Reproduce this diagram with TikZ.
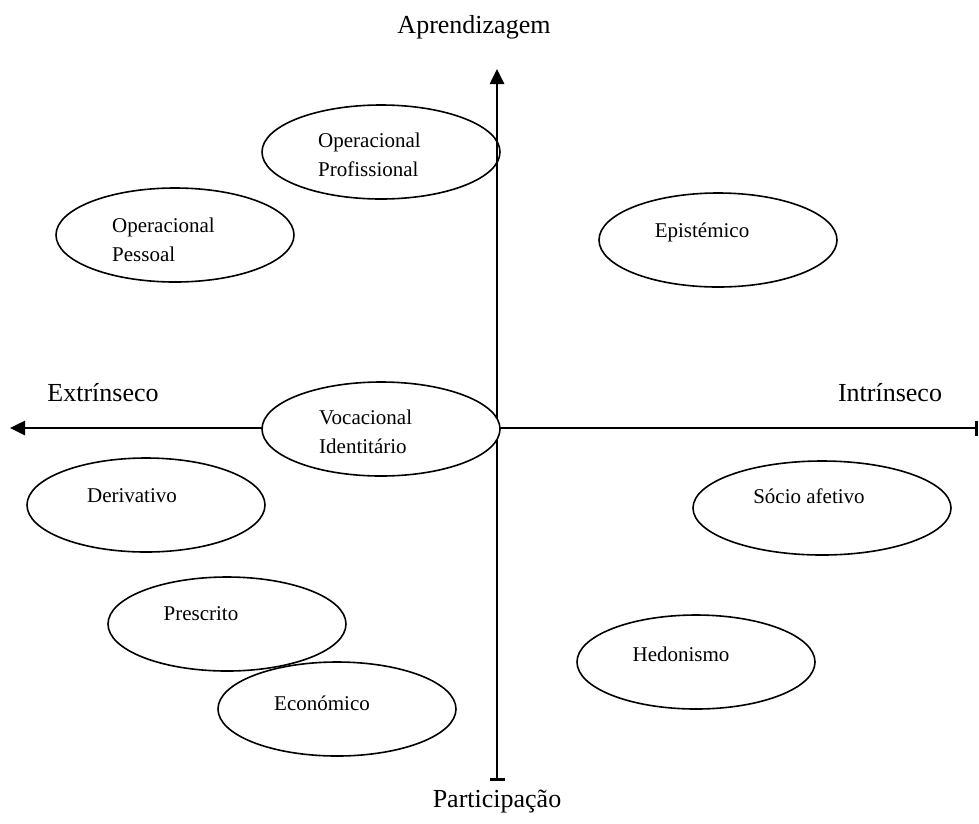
\documentclass[tikz,border=0pt]{standalone}
\usepackage{fontspec}
\setmainfont{Liberation Serif}
\usetikzlibrary{shapes.geometric,arrows.meta}
\begin{document}
\begin{tikzpicture}[x=1pt,y=-1pt,
  ell/.style={draw,fill=white,ellipse,line width=1.6pt,inner sep=0pt,minimum width=238pt,minimum height=94pt},
  lab/.style={font=\fontsize{21}{29}\selectfont,inner sep=0pt,align=left},
  axlab/.style={font=\fontsize{26}{30}\selectfont,inner sep=0pt},
  axis/.style={line width=2.6pt}]
\useasboundingbox[fill=white] (0,0) rectangle (979,823);
% axes
\coordinate (L) at (10,428);
\coordinate (R) at (978,428);
\coordinate (T) at (497,69);
\coordinate (B) at (497,781);
\draw[axis,{Bar[width=15pt]}-{Triangle[width=14pt,length=15pt]}] (R) -- (L);
\draw[axis,{Bar[width=15pt]}-{Triangle[width=14pt,length=15pt]}] (B) -- (T);
% ellipses
\node[ell,fill=none] (e1) at (381,152) {};
\node[ell] (e2) at (175,235) {};
\node[ell] (e3) at (718,240) {};
\node[ell] (e4) at (381,429) {};
\node[ell] (e5) at (146,505) {};
\node[ell,minimum width=258pt] (e6) at (822,508) {};
\node[ell] (e7) at (227,624) {};
\node[ell] (e8) at (696,662) {};
\node[ell,fill=none] (e9) at (337,709) {};
% labels
\node[lab,anchor=west] (t1) at (318,155) {Operacional\\Profissional};
\node[lab,anchor=west] (t2) at (112,240) {Operacional\\Pessoal};
\node[lab] (t3) at (702,232) {Epistémico};
\node[lab,anchor=west] (t4) at (319,432) {Vocacional\\Identitário};
\node[lab] (t5) at (132,496) {Derivativo};
\node[lab] (t6) at (809,496) {Sócio afetivo};
\node[lab] (t7) at (201,614) {Prescrito};
\node[lab] (t8) at (681,654) {Hedonismo};
\node[lab] (t9) at (322,703) {Económico};
% axis labels
\node[axlab] (a1) at (474,27) {Aprendizagem};
\node[axlab] (a2) at (497,801) {Participação};
\node[axlab] (a3) at (103,393) {Extrínseco};
\node[axlab] (a4) at (890,393) {Intrínseco};
\end{tikzpicture}
\end{document}
